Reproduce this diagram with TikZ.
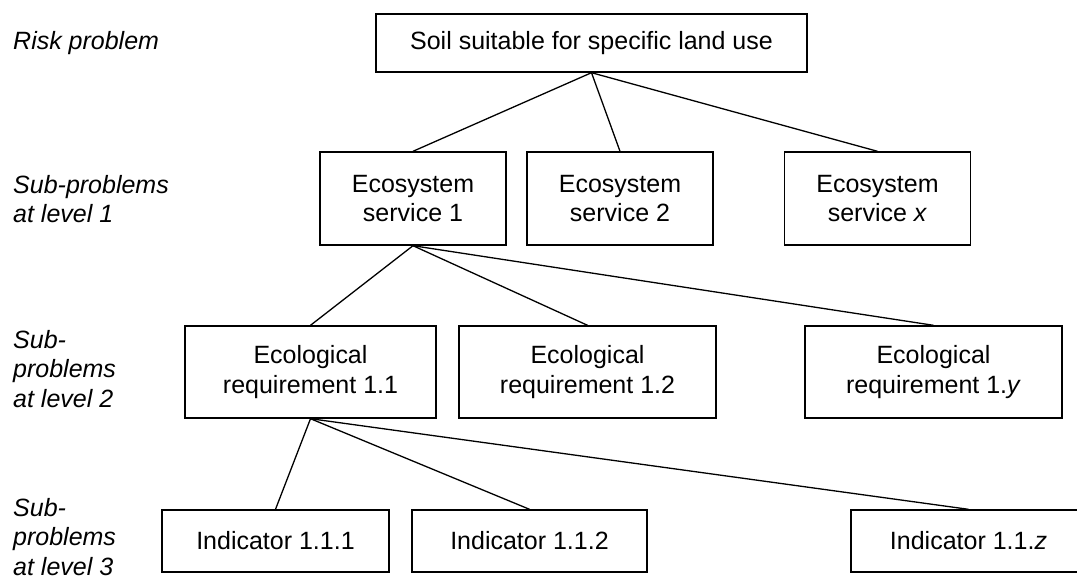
\documentclass[tikz,border=0pt]{standalone}
\usepackage{fontspec}
\setmainfont{Liberation Sans}
\begin{document}
\begin{tikzpicture}[x=1pt,y=-1pt,
  box/.style={draw, line width=1.4pt, inner sep=0pt, align=center,
    font=\fontsize{25}{29.5}\selectfont},
  lvl/.style={anchor=west, align=left, inner sep=0pt,
    font=\fontsize{25}{29.5}\selectfont\itshape},
  link/.style={line width=1.3pt}]
\useasboundingbox (0,0) rectangle (1077,576);
% labels
\node[lvl] (l0) at (13,43) {Risk problem};
\node[lvl] (l1) at (13,199) {Sub-problems\\at level 1};
\node[lvl] (l2) at (13,369) {Sub-\\problems\\at level 2};
\node[lvl] (l3) at (13,537) {Sub-\\problems\\at level 3};
% boxes
\node[box, minimum width=431pt, minimum height=58pt] (top) at (591.5,43) {Soil suitable for specific land use};
\node[box, minimum width=186pt, minimum height=93pt] (es1) at (413,198.5) {Ecosystem\\service 1};
\node[box, minimum width=186pt, minimum height=93pt] (es2) at (620,198.5) {Ecosystem\\service 2};
\node[box, minimum width=186pt, minimum height=93pt] (esx) at (877.5,198.5) {Ecosystem\\service \textit{x}};
\node[box, minimum width=251pt, minimum height=92pt] (er1) at (310.5,372) {Ecological\\requirement 1.1};
\node[box, minimum width=257pt, minimum height=92pt] (er2) at (587.5,372) {Ecological\\requirement 1.2};
\node[box, minimum width=257pt, minimum height=92pt] (ery) at (933.5,372) {Ecological\\requirement 1.\textit{y}};
\node[box, minimum width=227pt, minimum height=62pt] (in1) at (275.5,541) {Indicator 1.1.1};
\node[box, minimum width=235pt, minimum height=62pt] (in2) at (529.5,541) {Indicator 1.1.2};
\node[box, minimum width=235pt, minimum height=62pt] (inz) at (968.5,541) {Indicator 1.1.\textit{z}};
% connectors
\draw[link] (top.south) -- (es1.north);
\draw[link] (top.south) -- (es2.north);
\draw[link] (top.south) -- (esx.north);
\draw[link] (es1.south) -- (er1.north);
\draw[link] (es1.south) -- (er2.north);
\draw[link] (es1.south) -- (ery.north);
\draw[link] (er1.south) -- (in1.north);
\draw[link] (er1.south) -- (in2.north);
\draw[link] (er1.south) -- (inz.north);
\end{tikzpicture}
\end{document}
